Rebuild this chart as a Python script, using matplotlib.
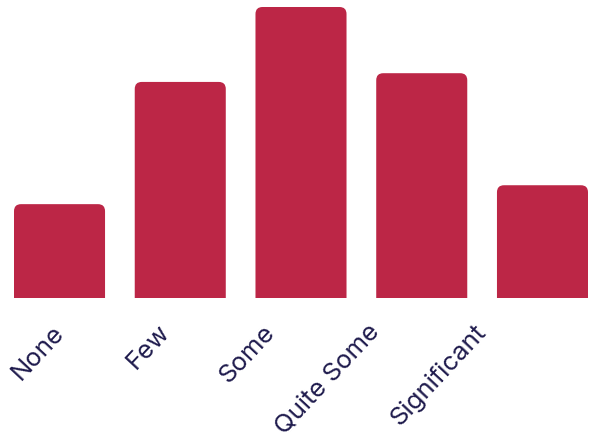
import matplotlib
matplotlib.use("Agg")
import matplotlib.pyplot as plt
from matplotlib.patches import FancyBboxPatch
from matplotlib.transforms import ScaledTranslation

categories = ["None", "Few", "Some", "Quite Some", "Significant"]
values = [12.9, 29.7, 40.0, 30.9, 15.5]

BAR_COLOR = "#BC2646"
TEXT_COLOR = "#1F1B4D"
W = 0.754

fig = plt.figure(figsize=(6, 4.45), dpi=100)
ax = fig.add_axes([14 / 600, (445 - 298) / 445, 574 / 600, 291 / 445])
ax.set_xlim(-W / 2, len(categories) - 1 + W / 2)
ax.set_ylim(0, max(values))

bars = ax.bar(range(len(categories)), values, width=W, color=BAR_COLOR)
fig.canvas.draw()
# replace bars with rounded-top patches
px_x = (ax.get_xlim()[1] - ax.get_xlim()[0]) / (574)
px_y = (ax.get_ylim()[1] - ax.get_ylim()[0]) / (291)
r_px = 7
for b in bars:
    b.set_visible(False)
    x, w, h = b.get_x(), b.get_width(), b.get_height()
    r = r_px * px_x
    extra = r_px * px_y * 2
    p = FancyBboxPatch((x, -extra), w, h + extra,
                       boxstyle=f"round,pad=0,rounding_size={r}",
                       mutation_aspect=px_y / px_x,
                       facecolor=BAR_COLOR, edgecolor="none", clip_on=True)
    ax.add_patch(p)

for s in ax.spines.values():
    s.set_visible(False)
ax.set_yticks([])
ax.set_xticks(range(len(categories)))
ax.set_xticklabels(categories, rotation=47, ha="right", va="center",
                   rotation_mode="anchor", fontsize=18.5, color=TEXT_COLOR,
                   family=["Inter", "DejaVu Sans"])
ax.tick_params(axis="x", length=0, pad=22)
for i, lab in enumerate(ax.get_xticklabels()):
    dx = (3.5 - 15.25 * i - 3) / 100
    lab.set_transform(lab.get_transform() + ScaledTranslation(dx, 0, fig.dpi_scale_trans))

fig.savefig("out.png", dpi=100)
